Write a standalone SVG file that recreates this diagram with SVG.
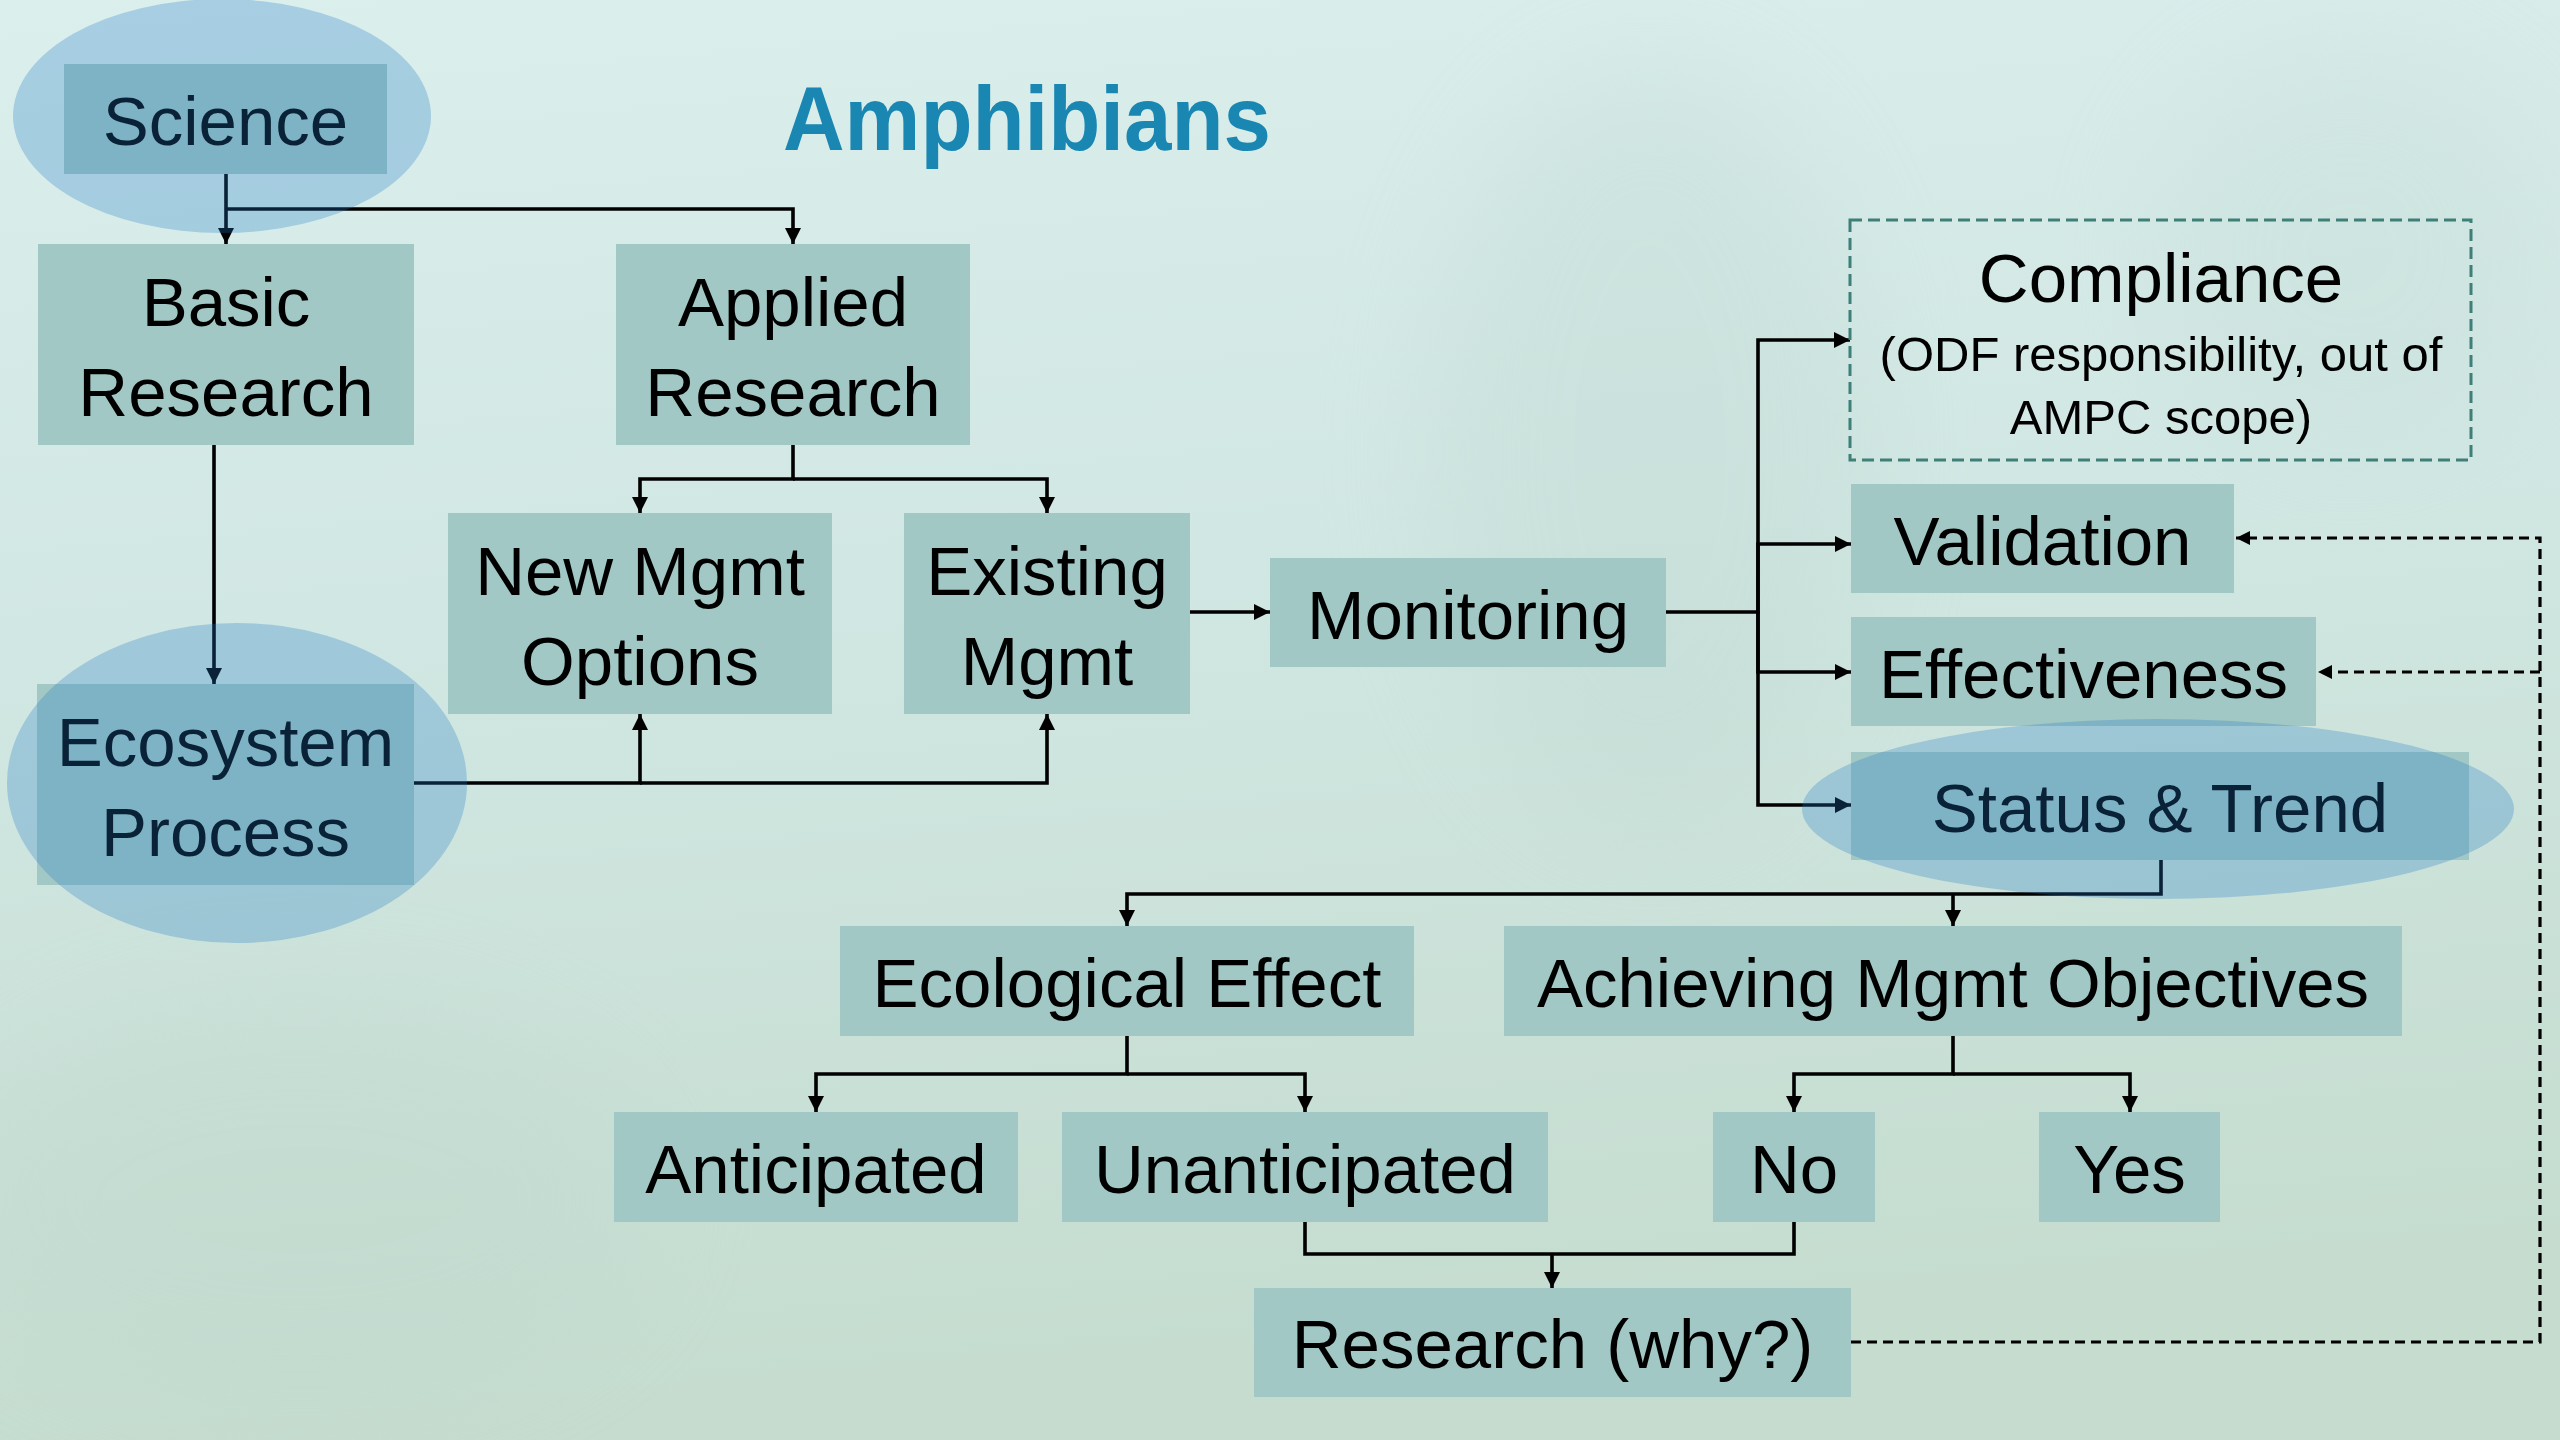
<svg xmlns="http://www.w3.org/2000/svg" width="2560" height="1440" viewBox="0 0 2560 1440">
<defs>
  <linearGradient id="bg" x1="0" y1="0" x2="0.15" y2="1">
    <stop offset="0" stop-color="#dbefed"/>
    <stop offset="0.45" stop-color="#d1e7e3"/>
    <stop offset="1" stop-color="#c5dccf"/>
  </linearGradient>
  <filter id="blur" x="-50%" y="-50%" width="200%" height="200%">
    <feGaussianBlur stdDeviation="60"/>
  </filter>
  <marker id="arr" markerUnits="userSpaceOnUse" markerWidth="17" markerHeight="16" refX="16" refY="8" orient="auto">
    <path d="M0,0 L16,8 L0,16 z" fill="#000"/>
  </marker>
  <marker id="arrd" markerUnits="userSpaceOnUse" markerWidth="15" markerHeight="14" refX="14" refY="7" orient="auto">
    <path d="M0,0 L14,7 L0,14 z" fill="#000"/>
  </marker>
  <style>
    .box { fill: #a2c8c5; }
    .t { font-family: "Liberation Sans", Arial, sans-serif; font-size: 69px; fill: #000; text-anchor: middle; }
    .small { font-size: 49px; }
    .hl { fill: #1f7ac4; fill-opacity: 0.28; }
    .c { fill: none; stroke: #000; stroke-width: 3.6; }
    .ca { fill: none; stroke: #000; stroke-width: 3.6; marker-end: url(#arr); }
    .cda { fill: none; stroke: #000; stroke-width: 3.2; stroke-dasharray: 10 6; marker-end: url(#arrd); }
    .dashbox { fill: none; stroke: #3e7f78; stroke-width: 3; stroke-dasharray: 12 6; }
  </style>
</defs>

<rect x="0" y="0" width="2560" height="1440" fill="url(#bg)"/>
<g filter="url(#blur)" opacity="0.3">
  <ellipse cx="1650" cy="450" rx="220" ry="380" fill="#bcd4ce"/>
  <ellipse cx="2350" cy="250" rx="200" ry="200" fill="#c3dad5"/>
  <ellipse cx="300" cy="1200" rx="350" ry="200" fill="#bcd6ca"/>
</g>

<text id="title" x="1027" y="150" font-family="'Liberation Sans', Arial, sans-serif" font-weight="bold" font-size="90" fill="#1a87b3" text-anchor="middle" textLength="488" lengthAdjust="spacingAndGlyphs">Amphibians</text>

<g id="connectors">
  <path class="ca" d="M226,174 V244"/>
  <path class="ca" d="M226,209 H793 V244"/>
  <path class="ca" d="M793,445 V479 H640 V513"/>
  <path class="ca" d="M793,479 H1047 V513"/>
  <path class="ca" d="M214,445 V684"/>
  <path class="ca" d="M414,783 H640 V714"/>
  <path class="ca" d="M640,783 H1047 V714"/>
  <path class="ca" d="M1190,612 H1270"/>
  <path class="ca" d="M1666,612 H1758 V340 H1850"/>
  <path class="ca" d="M1758,612 V544 H1851"/>
  <path class="ca" d="M1758,612 V672 H1851"/>
  <path class="ca" d="M1758,612 V805 H1851"/>
  <path class="ca" d="M2161,860 V894 H1127 V926"/>
  <path class="ca" d="M1953,894 V926"/>
  <path class="ca" d="M1127,1036 V1074 H816 V1112"/>
  <path class="ca" d="M1127,1074 H1305 V1112"/>
  <path class="ca" d="M1953,1036 V1074 H1794 V1112"/>
  <path class="ca" d="M1953,1074 H2130 V1112"/>
  <path class="c" d="M1305,1222 V1254 H1794 V1222"/>
  <path class="ca" d="M1552,1254 V1288"/>
  <path class="cda" d="M1851,1342 H2540 V538 H2236"/>
  <path class="cda" d="M2540,672 H2318"/>
</g>

<g id="science">
  <rect class="box" x="64" y="64" width="323" height="110"/>
  <text class="t" x="225.5" y="145">Science</text>
  <ellipse class="hl" cx="222" cy="116" rx="209" ry="117"/>
</g>
<g id="basic-research">
  <rect class="box" x="38" y="244" width="376" height="201"/>
  <text class="t" x="226" y="326">Basic</text>
  <text class="t" x="226" y="416">Research</text>
</g>
<g id="applied-research">
  <rect class="box" x="616" y="244" width="354" height="201"/>
  <text class="t" x="793" y="326">Applied</text>
  <text class="t" x="793" y="416">Research</text>
</g>
<g id="new-mgmt-options">
  <rect class="box" x="448" y="513" width="384" height="201"/>
  <text class="t" x="640" y="595">New Mgmt</text>
  <text class="t" x="640" y="685">Options</text>
</g>
<g id="existing-mgmt">
  <rect class="box" x="904" y="513" width="286" height="201"/>
  <text class="t" x="1047" y="595">Existing</text>
  <text class="t" x="1047" y="685">Mgmt</text>
</g>
<g id="ecosystem-process">
  <rect class="box" x="37" y="684" width="377" height="201"/>
  <text class="t" x="225.5" y="766">Ecosystem</text>
  <text class="t" x="225.5" y="856">Process</text>
  <ellipse class="hl" cx="237" cy="783" rx="230" ry="160"/>
</g>
<g id="monitoring">
  <rect class="box" x="1270" y="558" width="396" height="109"/>
  <text class="t" x="1468" y="639">Monitoring</text>
</g>
<g id="compliance">
  <rect class="dashbox" x="1850" y="220" width="621" height="240"/>
  <text class="t" x="2161" y="302" font-size="68">Compliance</text>
  <text class="t small" x="2161" y="371">(ODF responsibility, out of</text>
  <text class="t small" x="2161" y="434">AMPC scope)</text>
</g>
<g id="validation">
  <rect class="box" x="1851" y="484" width="383" height="109"/>
  <text class="t" x="2042.5" y="565">Validation</text>
</g>
<g id="effectiveness">
  <rect class="box" x="1851" y="617" width="465" height="109"/>
  <text class="t" x="2083.5" y="698">Effectiveness</text>
</g>
<g id="status-trend">
  <rect class="box" x="1851" y="752" width="618" height="108"/>
  <text class="t" x="2160" y="832">Status &amp; Trend</text>
  <ellipse class="hl" cx="2158" cy="809" rx="356" ry="90"/>
</g>
<g id="ecological-effect">
  <rect class="box" x="840" y="926" width="574" height="110"/>
  <text class="t" x="1127" y="1007">Ecological Effect</text>
</g>
<g id="achieving-mgmt-objectives">
  <rect class="box" x="1504" y="926" width="898" height="110"/>
  <text class="t" x="1953" y="1007">Achieving Mgmt Objectives</text>
</g>
<g id="anticipated">
  <rect class="box" x="614" y="1112" width="404" height="110"/>
  <text class="t" x="816" y="1193">Anticipated</text>
</g>
<g id="unanticipated">
  <rect class="box" x="1062" y="1112" width="486" height="110"/>
  <text class="t" x="1305" y="1193">Unanticipated</text>
</g>
<g id="no">
  <rect class="box" x="1713" y="1112" width="162" height="110"/>
  <text class="t" x="1794" y="1193">No</text>
</g>
<g id="yes">
  <rect class="box" x="2039" y="1112" width="181" height="110"/>
  <text class="t" x="2129.5" y="1193">Yes</text>
</g>
<g id="research-why">
  <rect class="box" x="1254" y="1288" width="597" height="109"/>
  <text class="t" x="1552.5" y="1368">Research (why?)</text>
</g>
</svg>
